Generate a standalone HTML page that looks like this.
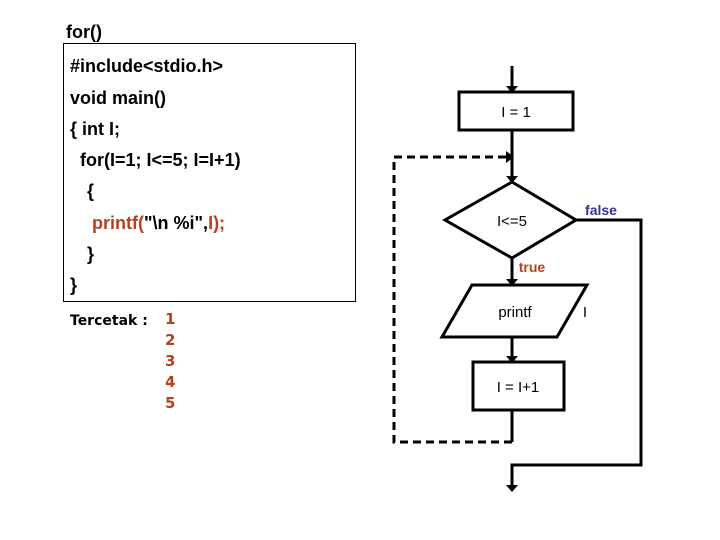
<!DOCTYPE html>
<html><head><style>
body{margin:0;background:#fff;width:720px;height:540px;position:relative;overflow:hidden;font-family:"Liberation Sans",Arial,sans-serif}
.t{position:absolute;font-weight:bold;font-size:18px;color:#000;white-space:pre;line-height:20px}
.r{color:#b5401e}
</style></head><body>
<div class="t" style="left:66px;top:22px">for()</div>
<div style="position:absolute;left:63px;top:43px;width:291px;height:257px;border:1px solid #000"></div>
<div class="t" style="left:70px;top:56px">#include&lt;stdio.h&gt;</div>
<div class="t" style="left:70px;top:88px">void main()</div>
<div class="t" style="left:70px;top:119px">{ int I;</div>
<div class="t" style="left:80px;top:150px">for(I=1; I&lt;=5; I=I+1)</div>
<div class="t" style="left:87px;top:181px">{</div>
<div class="t" style="left:92px;top:213px"><span class="r">printf(</span>"\n %i",<span class="r">I);</span></div>
<div class="t" style="left:87px;top:244px">}</div>
<div class="t" style="left:70px;top:275px">}</div>
<div class="t" style="left:70px;top:311px;font-size:14px;font-family:'DejaVu Sans',sans-serif">Tercetak :</div>
<div class="t r" style="left:165px;top:309px;font-size:15px;font-family:'DejaVu Sans',sans-serif;line-height:21px">1
2
3
4
5</div>
<svg width="720" height="540" style="position:absolute;left:0;top:0">
<g stroke="#000" stroke-width="3" fill="none">
<line x1="512" y1="66" x2="512" y2="88"/>
<rect x="459" y="92" width="114" height="38"/>
<line x1="512" y1="130" x2="512" y2="178"/>
<polygon points="512,182 576,220 512,258 445,220"/>
<line x1="512" y1="258" x2="512" y2="281"/>
<polygon points="472,285 587,285 557,337 442,337"/>
<line x1="512" y1="337" x2="512" y2="358"/>
<rect x="473" y="362" width="91" height="48"/>
<line x1="512" y1="410" x2="512" y2="442"/>
<polyline points="576,220 641,220 641,465 512,465 512,486"/>
<polyline points="512,442 394,442 394,157 506,157" stroke-dasharray="8,5"/>
</g>
<g fill="#000">
<polygon points="506,86 518,86 512,93"/>
<polygon points="506,176 518,176 512,183"/>
<polygon points="506,279 518,279 512,286"/>
<polygon points="506,356 518,356 512,363"/>
<polygon points="506,485 518,485 512,492"/>
<polygon points="506,151 506,163 514,157"/>
</g>
<g font-family="Liberation Sans,Arial,sans-serif" font-size="15" text-anchor="middle">
<text x="516" y="117">I = 1</text>
<text x="512" y="226">I&lt;=5</text>
<text x="515" y="317">printf</text>
<text x="518" y="392">I = I+1</text>
<text x="585" y="317">I</text>
<text x="601" y="215" fill="#333399" font-weight="bold" font-size="14">false</text>
<text x="532" y="272" fill="#b5401e" font-weight="bold" font-size="14">true</text>
</g>
</svg>
</body></html>
